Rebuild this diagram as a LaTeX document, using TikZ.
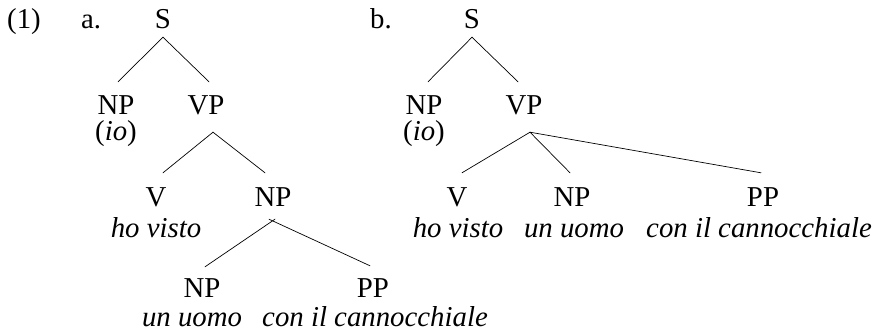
\documentclass[tikz,border=0pt]{standalone}
\usepackage{fontspec}
\setmainfont{Liberation Serif}
\begin{document}
\begin{tikzpicture}[x=1pt,y=-1pt,
  lab/.style={font=\fontsize{28.8}{34}\selectfont, inner sep=0pt, anchor=base},
  cat/.style={lab, text height=#1},
  cat/.default=33pt,
  wrd/.style={lab, font=\fontsize{28.8}{34}\selectfont\itshape, text depth=0pt},
  branch/.style={line width=0.7pt, line cap=round}]
\useasboundingbox (0,0) rectangle (873,331);

% example number and sub-labels
\node[lab, anchor=base west] (num) at (7,29) {(1)};
\node[lab, anchor=base west] (la) at (81,29) {a.};
\node[lab, anchor=base west] (lb) at (370,29) {b.};

% ---- tree a: PP attached inside the object NP ----
\node[cat=18pt, text depth=8pt] (Sa) at (163,29) {S};
\node[cat] (NPa) at (116,115) {NP};
\node[lab, text depth=0pt] (ioa) at (116,141) {(\textit{io})};
\node[cat, text depth=17pt] (VPa) at (206,115) {VP};
\node[cat=34pt] (Va) at (156,207) {V};
\node[wrd] (Wva) at (156,237) {ho visto};
\node[cat=34pt, text depth=12pt] (NPoa) at (273,207) {NP};
\node[cat=30pt] (NPia) at (202,297) {NP};
\node[wrd] (Wua) at (192,326) {un uomo};
\node[cat=31pt] (PPa) at (373,297) {PP};
\node[wrd] (Wca) at (375,326) {con il cannocchiale};

\draw[branch] (Sa.south) -- ([xshift=2pt]NPa.north);
\draw[branch] (Sa.south) -- ([xshift=3pt]VPa.north);
\draw[branch] ([xshift=7pt]VPa.south) -- ([xshift=7pt]Va.north);
\draw[branch] ([xshift=7pt]VPa.south) -- ([xshift=-8pt]NPoa.north);
\draw[branch] ([xshift=2pt]NPoa.south) -- ([xshift=3pt]NPia.north);
\draw[branch] ([xshift=-4pt]NPoa.south) -- ([xshift=-3pt]PPa.north);

% ---- tree b: PP attached to the VP ----
\node[cat=18pt, text depth=8pt] (Sb) at (472,29) {S};
\node[cat] (NPb) at (424,115) {NP};
\node[lab, text depth=0pt] (iob) at (424,141) {(\textit{io})};
\node[cat, text depth=17pt] (VPb) at (524,115) {VP};
\node[cat=34pt] (Vb) at (457,207) {V};
\node[wrd] (Wvb) at (458,237) {ho visto};
\node[cat=34pt] (NPob) at (572,207) {NP};
\node[wrd] (Wub) at (574,237) {un uomo};
\node[cat=34pt] (PPb) at (763,207) {PP};
\node[wrd] (Wcb) at (759,237) {con il cannocchiale};

\draw[branch] (Sb.south) -- ([xshift=4pt]NPb.north);
\draw[branch] (Sb.south) -- ([xshift=-6pt]VPb.north);
\draw[branch] ([xshift=6pt]VPb.south) -- ([xshift=5pt]Vb.north);
\draw[branch] ([xshift=6pt]VPb.south) -- ([xshift=-2pt]NPob.north);
\draw[branch] ([xshift=6pt]VPb.south) -- ([xshift=-2pt]PPb.north);
\end{tikzpicture}
\end{document}
